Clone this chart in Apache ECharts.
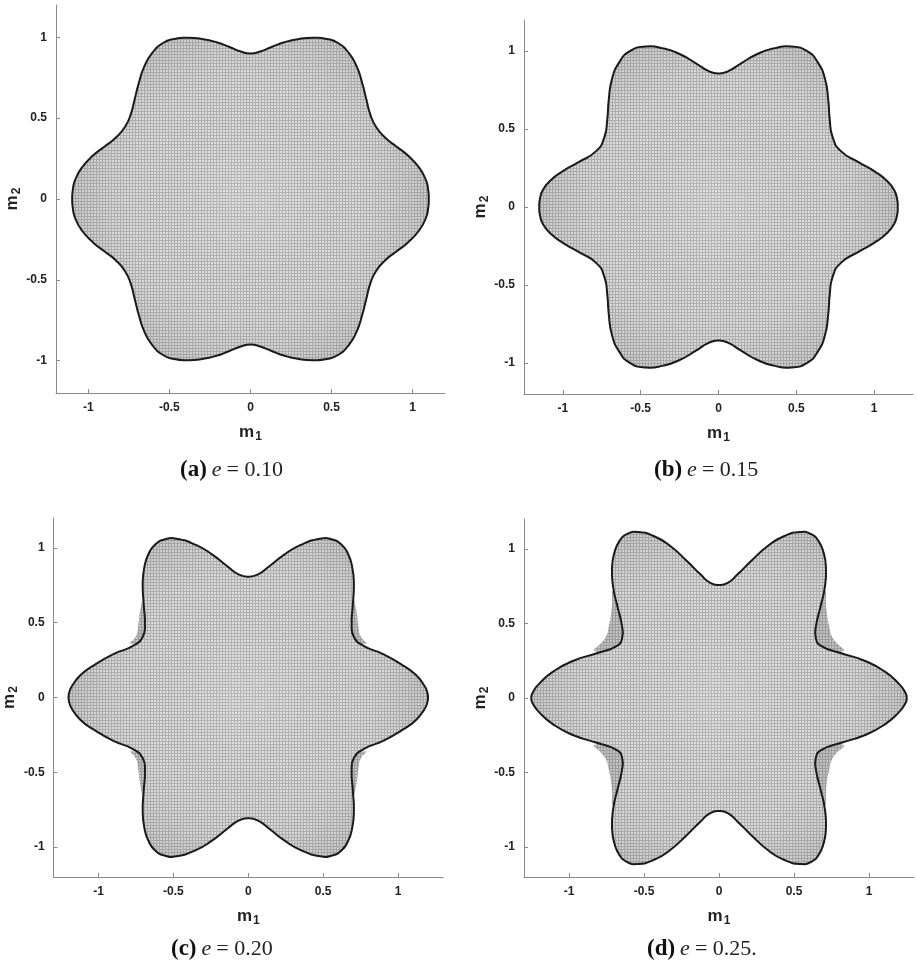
<!DOCTYPE html>
<html>
<head>
<meta charset="utf-8">
<title>m1 m2 panels</title>
<style>
  html, body { margin: 0; padding: 0; background: #fff; }
  #main { width: 917px; height: 962px; }
</style>
</head>
<body>
<div id="main"></div>
<script src="https://cdn.jsdelivr.net/npm/echarts@6/dist/echarts.min.js"></script>
<script>
// outline, first quadrant only (top centre -> right tip)
var quadA = [[0, 0.90], [0.06, 0.912], [0.13, 0.94], [0.21, 0.97], [0.30, 0.99], [0.39, 0.997],
  [0.47, 0.99], [0.54, 0.965], [0.605, 0.905], [0.655, 0.82], [0.69, 0.715], [0.715, 0.615],
  [0.74, 0.52], [0.775, 0.445], [0.83, 0.38], [0.90, 0.325], [0.97, 0.27], [1.04, 0.195],
  [1.083, 0.115], [1.097, 0.05], [1.10, 0]];
var quadB = [[0, 0.857], [0.06, 0.87], [0.145, 0.922], [0.25, 0.982], [0.355, 1.018], [0.465, 1.03],
  [0.57, 1.0], [0.64, 0.925], [0.685, 0.82], [0.705, 0.69], [0.715, 0.56], [0.733, 0.45],
  [0.785, 0.36], [0.905, 0.285], [1.0, 0.23], [1.08, 0.17], [1.128, 0.11], [1.148, 0.05], [1.152, 0]];
var quadC = [[0, 0.808], [0.062, 0.822], [0.14, 0.877], [0.24, 0.955], [0.35, 1.02], [0.48, 1.062],
  [0.555, 1.058], [0.62, 1.025], [0.667, 0.958], [0.694, 0.87], [0.705, 0.76], [0.698, 0.62],
  [0.69, 0.49], [0.705, 0.405], [0.77, 0.345], [0.90, 0.29], [1.04, 0.21], [1.12, 0.15],
  [1.175, 0.08], [1.195, 0.035], [1.20, 0]];
var quadD = [[0, 0.758], [0.058, 0.772], [0.124, 0.829], [0.214, 0.918], [0.325, 1.019], [0.436, 1.086],
  [0.545, 1.113], [0.615, 1.098], [0.665, 1.05], [0.697, 0.975], [0.713, 0.874], [0.705, 0.74],
  [0.675, 0.606], [0.648, 0.49], [0.645, 0.405], [0.68, 0.35], [0.815, 0.30], [0.97, 0.25],
  [1.104, 0.178], [1.20, 0.095], [1.24, 0.04], [1.252, 0]];

// grey mesh that spills past the outline at the waists (panels c, d)
var spillC = [[0.70, 0.66], [0.722, 0.58], [0.735, 0.48], [0.75, 0.41], [0.79, 0.36], [0.70, 0.40], [0.69, 0.55]];
var spillD = [[0.705, 0.72], [0.715, 0.60], [0.735, 0.48], [0.76, 0.40], [0.83, 0.315], [0.66, 0.36], [0.64, 0.55]];

var xRanges = [1.2, 1.25, 1.3, 1.3];
var yRange = 1.2;
var tickVals = [-1, -0.5, 0, 0.5, 1];
var captions = ['0.10', '0.15', '0.20', '0.25.'];
var letters = ['a', 'b', 'c', 'd'];

var grids = [
  { left: 56, top: 5, width: 389, height: 388 },
  { left: 524, top: 20, width: 389, height: 374 },
  { left: 53, top: 518, width: 390, height: 359 },
  { left: 524, top: 519, width: 390, height: 358 }
];
var capPos = [[175, 454], [649, 454], [166, 933], [642, 933]];

// mirror a first-quadrant path into a closed loop
function fullLoop(q) {
  var out = [], i;
  for (i = 0; i < q.length; i++) out.push([q[i][0], q[i][1]]);
  for (i = q.length - 2; i >= 0; i--) out.push([q[i][0], -q[i][1]]);
  for (i = 1; i < q.length; i++) out.push([-q[i][0], -q[i][1]]);
  for (i = q.length - 2; i >= 1; i--) out.push([-q[i][0], q[i][1]]);
  return out;
}
function mirrors(q) {
  var sx = [1, 1, -1, -1], sy = [1, -1, 1, -1];
  return sx.map(function (a, k) {
    return q.map(function (p) { return [a * p[0], sy[k] * p[1]]; });
  });
}

function meshPattern(bg, line) {
  var c = document.createElement('canvas');
  c.width = 3; c.height = 3;
  var ctx = c.getContext('2d');
  ctx.fillStyle = bg; ctx.fillRect(0, 0, 3, 3);
  ctx.fillStyle = line; ctx.fillRect(0, 0, 3, 1); ctx.fillRect(0, 0, 1, 3);
  return { image: c, repeat: 'repeat' };
}

var fillMain = meshPattern('#dcdcdc', '#afafaf');
var fillSpill = meshPattern('#c2c2c2', '#9c9c9c');
// lighter middle, denser (darker) mesh toward the lobes
var shade = {
  type: 'radial', x: 0.5, y: 0.5, r: 0.62,
  colorStops: [
    { offset: 0, color: 'rgba(255,255,255,0.10)' },
    { offset: 0.45, color: 'rgba(255,255,255,0)' },
    { offset: 1, color: 'rgba(0,0,0,0.13)' }
  ]
};

function polySeries(idx, pts, style, z) {
  return {
    type: 'custom',
    coordinateSystem: 'cartesian2d',
    xAxisIndex: idx,
    yAxisIndex: idx,
    silent: true,
    z: z,
    data: [0],
    renderItem: function (params, api) {
      var p = pts.map(function (d) { return api.coord(d); });
      return { type: 'polygon', shape: { points: p, smooth: 0.55 }, style: style };
    }
  };
}

var labelFont = { color: '#222', fontWeight: 'bold', fontSize: 12, fontFamily: 'Liberation Sans' };
function axisName(n) {
  return {
    name: '{m|m}{s|' + n + '}',
    nameLocation: 'middle',
    nameTextStyle: {
      rich: {
        m: { fontSize: 17, fontWeight: 'bold', fontFamily: 'Liberation Sans', color: '#222' },
        s: { fontSize: 12, fontWeight: 'bold', fontFamily: 'Liberation Sans', color: '#222', padding: [9, 0, 0, 1] }
      }
    }
  };
}
function axisCommon() {
  return {
    type: 'value',
    axisLine: { onZero: false, lineStyle: { color: '#8a8a8a', width: 1 } },
    axisTick: { inside: true, length: 4, customValues: tickVals, lineStyle: { color: '#8a8a8a' } },
    axisLabel: Object.assign({ customValues: tickVals, margin: 9 }, labelFont),
    splitLine: { show: false }
  };
}

var xAxis = [], yAxis = [], series = [], titles = [];
grids.forEach(function (g, i) {
  xAxis.push(Object.assign(axisCommon(), axisName(1), {
    gridIndex: i, min: -xRanges[i], max: xRanges[i], nameGap: 29
  }));
  yAxis.push(Object.assign(axisCommon(), axisName(2), {
    gridIndex: i, min: -yRange, max: yRange, nameGap: 31
  }));
  titles.push({
    left: capPos[i][0], top: capPos[i][1],
    text: '{b|(' + letters[i] + ')} {i|e} {r|= ' + captions[i] + '}',
    textStyle: {
      fontWeight: 'normal',
      rich: {
        b: { fontSize: 23, fontWeight: 'bold', fontFamily: 'Liberation Serif', color: '#111' },
        i: { fontSize: 22, fontWeight: 'normal', fontStyle: 'italic', fontFamily: 'Liberation Serif', color: '#222' },
        r: { fontSize: 22, fontWeight: 'normal', fontFamily: 'Liberation Serif', color: '#222' }
      }
    }
  });
});

var quads = [quadA, quadB, quadC, quadD];
var spills = [null, null, spillC, spillD];
quads.forEach(function (q, i) {
  var loop = fullLoop(q);
  if (spills[i]) {
    mirrors(spills[i]).forEach(function (s) {
      series.push(polySeries(i, s, { fill: fillSpill, stroke: null }, 1));
    });
  }
  series.push(polySeries(i, loop, { fill: fillMain, stroke: null }, 2));
  series.push(polySeries(i, loop, { fill: shade, stroke: '#1a1a1a', lineWidth: 2 }, 3));
});

var chart = echarts.init(document.getElementById('main'), null, { renderer: 'canvas' });
chart.setOption({
  backgroundColor: '#fff',
  animation: false,
  title: titles,
  grid: grids,
  xAxis: xAxis,
  yAxis: yAxis,
  series: series
});
</script>
</body>
</html>
